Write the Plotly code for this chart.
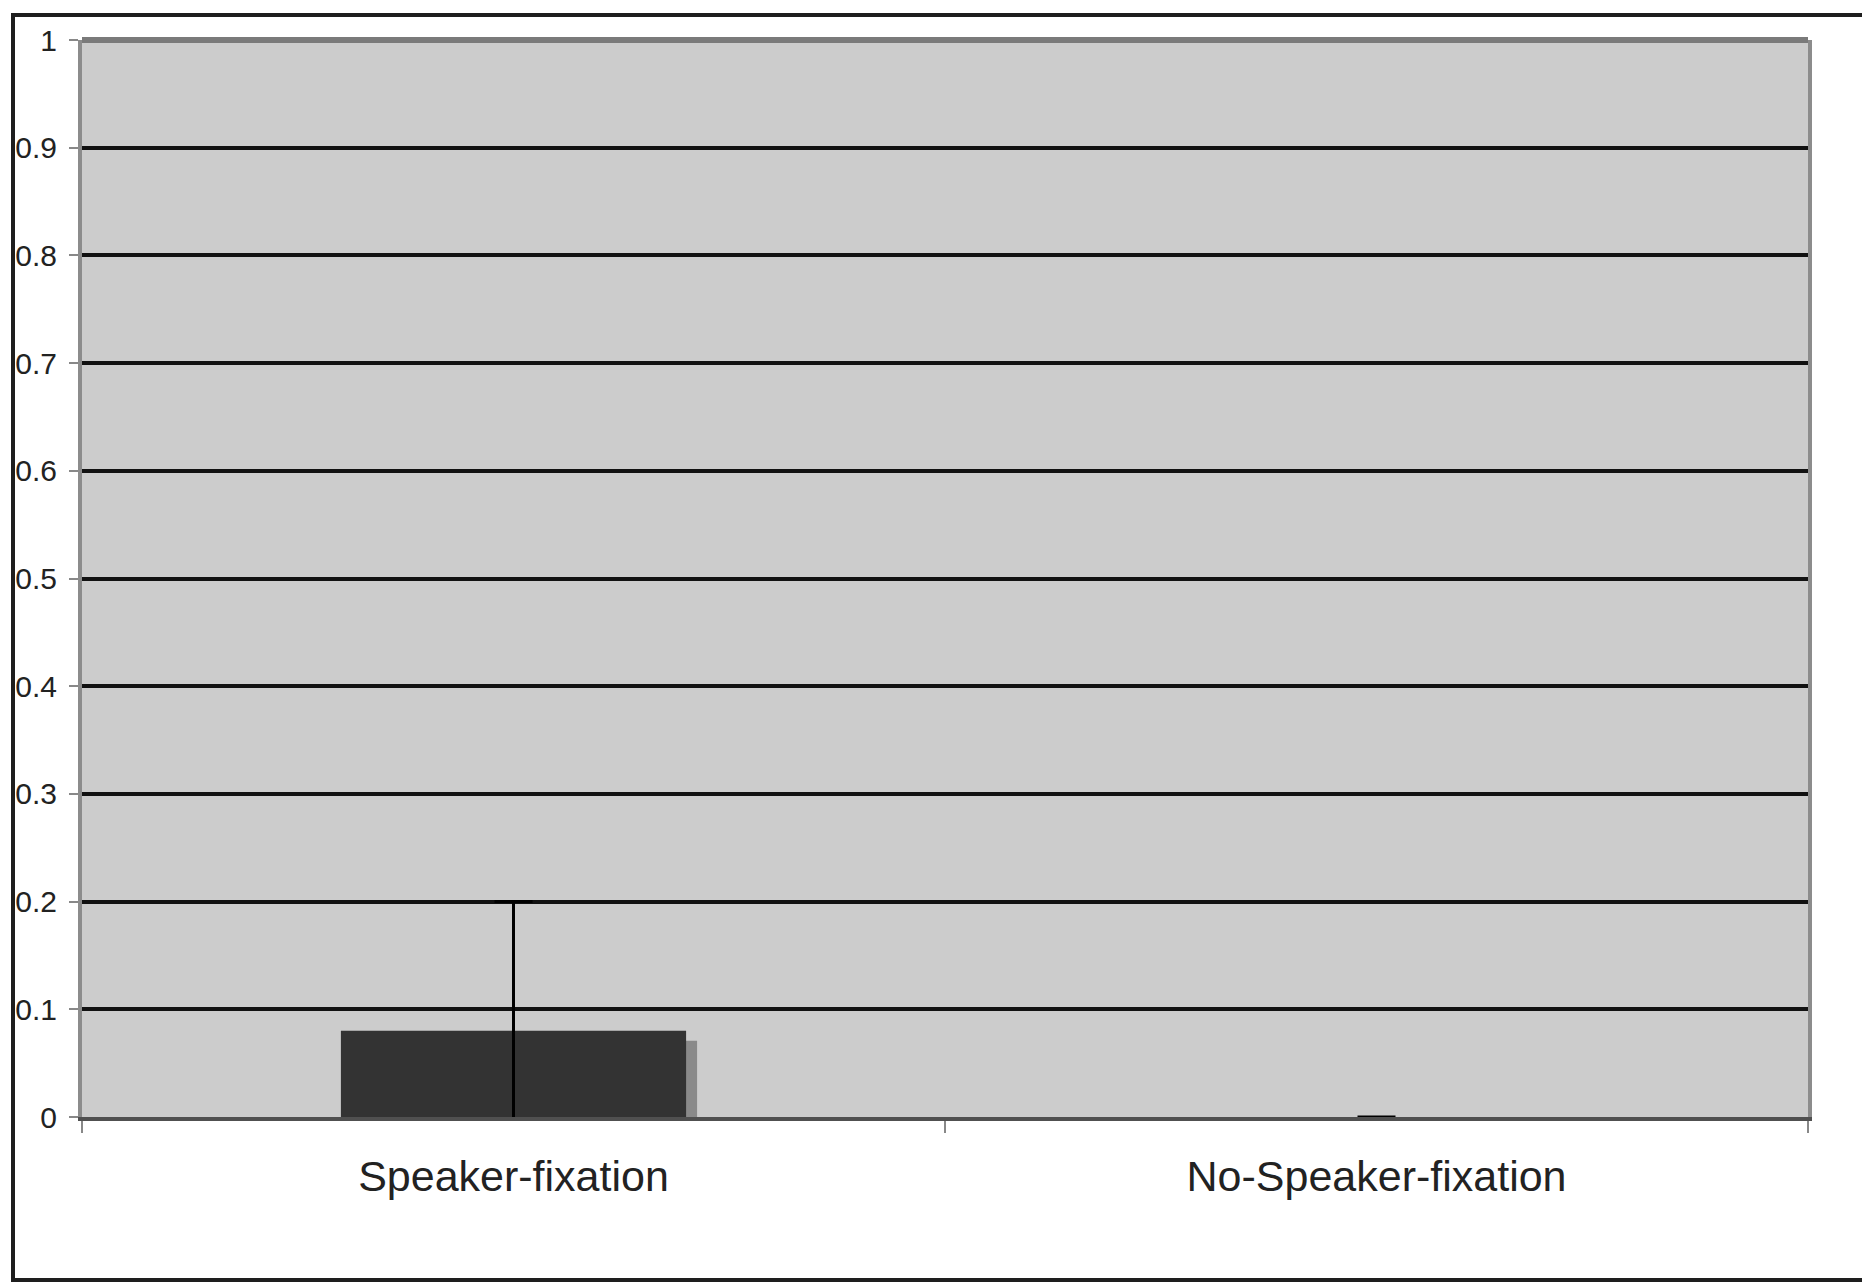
import plotly.graph_objects as go

categories = ["Speaker-fixation", "No-Speaker-fixation"]
values = [0.08, 0.0]
errors = [0.12, 0.0]
y_ticks = [0, 0.1, 0.2, 0.3, 0.4, 0.5, 0.6, 0.7, 0.8, 0.9, 1]
y_tick_labels = ["0", "0.1", "0.2", "0.3", "0.4", "0.5", "0.6", "0.7", "0.8", "0.9", "1"]

W, H = 1870, 1283
# page body has an 8px margin, so positions are shifted by 8px
L, R, T, B = 74, 70, 32, 174
plot_w = W - L - R
plot_h = H - T - B

bar_width = 0.4
shadow_dx = 11 / (plot_w / len(categories))
shadow_dy = 10 / plot_h
shadow_vals = [max(0.0, v - shadow_dy) for v in values]

fig = go.Figure()
fig.add_trace(go.Bar(
    x=categories, y=shadow_vals, width=bar_width, offset=-bar_width / 2 + shadow_dx,
    marker=dict(color="#8a8a8a", line=dict(width=0)), hoverinfo="skip", showlegend=False,
))
fig.add_trace(go.Bar(
    x=categories, y=values, width=bar_width,
    marker=dict(color="#333333", line=dict(width=0)),
    error_y=dict(type="data", array=errors, visible=True, color="#000000", thickness=3, width=19),
    showlegend=False,
))

fig.update_layout(
    width=W, height=H,
    margin=dict(l=L, r=R, t=T, b=B),
    paper_bgcolor="white",
    plot_bgcolor="#cccccc",
    barmode="overlay",
    font=dict(family="Liberation Sans, Arial, sans-serif", color="#222222"),
    xaxis=dict(
        type="category", tickson="boundaries", ticks="outside", ticklen=12, tickwidth=2,
        tickcolor="#888888", showgrid=False, showline=True, linecolor="#505050", linewidth=4,
        tickfont=dict(size=43, color="#222222"), ticklabelstandoff=18, automargin=False,
    ),
    yaxis=dict(
        range=[0, 1], tickvals=y_ticks, ticktext=y_tick_labels, ticks="outside", ticklen=9,
        tickwidth=2, tickcolor="#888888", showgrid=True, gridcolor="#111111", gridwidth=3.5,
        zeroline=False, showline=True, mirror=True, linecolor="#8c8c8c", linewidth=4,
        tickfont=dict(size=30, color="#222222"), ticklabelstandoff=6, automargin=False,
    ),
    shapes=[
        dict(type="line", xref="paper", yref="paper", x0=0, x1=1, y0=1, y1=1,
             line=dict(color="#7a7a7a", width=6), layer="above"),
        dict(type="rect", xref="paper", yref="paper",
             x0=(5 - L) / plot_w, x1=(W + 10 - L) / plot_w,
             y0=-(1272 - (T + plot_h)) / plot_h, y1=1 + (T - 7) / plot_h,
             line=dict(color="#1e1e1e", width=4), layer="above"),
    ],
)

fig.write_html("out.html")
